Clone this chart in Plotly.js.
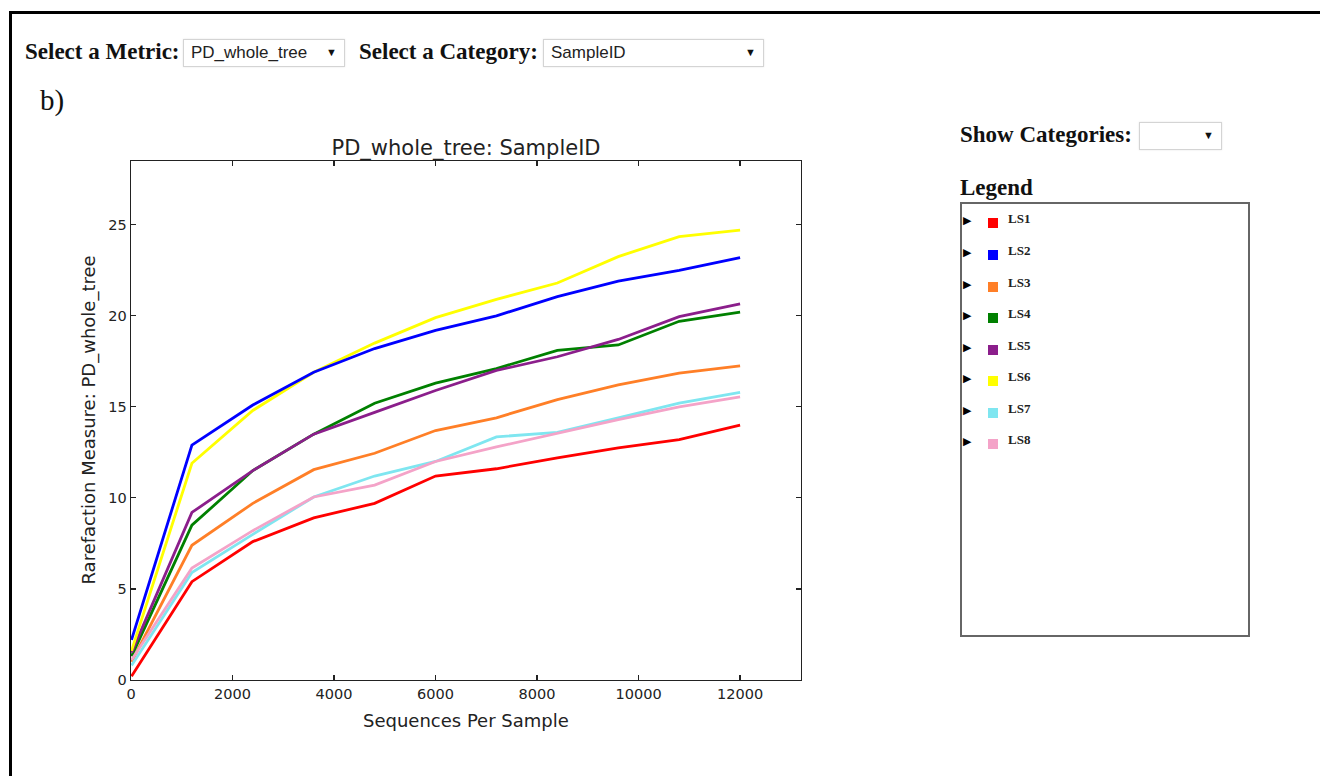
<!DOCTYPE html>
<html>
<head>
<meta charset="utf-8">
<script src="https://cdn.plot.ly/plotly-3.0.1.min.js"></script>
<style>
  html, body { margin:0; padding:0; width:1320px; height:776px; overflow:hidden; background:#fff; }
  #frame { position:absolute; left:9px; top:11px; width:1320px; height:800px; border-top:3px solid #000; border-left:3px solid #000; box-sizing:border-box; }
  #plot { position:absolute; left:0; top:0; width:1320px; height:776px; }
  .lbl { position:absolute; font-family:"Liberation Serif","Times New Roman",serif; font-weight:bold; font-size:23px; color:#111; white-space:nowrap; }
  .sel { position:absolute; border:1px solid #d4d4d4; box-shadow:0 0 2px #e6e6e6; background:#fff; box-sizing:border-box; font-family:"Liberation Sans",Arial,sans-serif; font-size:17px; color:#222; }
  .sel .txt { position:absolute; left:7px; top:3px; }
  .sel .arr { position:absolute; right:7px; top:6px; font-size:11px; color:#111; }
  #legbox { position:absolute; left:960px; top:202px; width:290px; height:435px; border:2px solid #666; box-sizing:border-box; }
  .row { position:absolute; left:0; height:16px; }
  .tri { position:absolute; left:1px; top:0; font-size:11px; color:#000; }
  .sq { position:absolute; left:26px; top:4px; width:10px; height:10px; }
  .nm { position:absolute; left:46px; top:-3px; font-family:"Liberation Serif","Times New Roman",serif; font-weight:bold; font-size:13px; color:#222; }
</style>
</head>
<body>
<div id="plot"></div>
<div id="frame"></div>
<div class="lbl" style="left:25px; top:39px;">Select a Metric:</div>
<div class="sel" style="left:183px; top:39px; width:162px; height:28px;"><span class="txt">PD_whole_tree</span><span class="arr">&#9660;</span></div>
<div class="lbl" style="left:359px; top:39px;">Select a Category:</div>
<div class="sel" style="left:543px; top:39px; width:221px; height:28px;"><span class="txt">SampleID</span><span class="arr">&#9660;</span></div>
<div style="position:absolute; left:40px; top:84px; font-family:'Liberation Serif','Times New Roman',serif; font-size:29px; color:#111;">b)</div>
<div class="lbl" style="left:960px; top:122px;">Show Categories:</div>
<div class="sel" style="left:1139px; top:122px; width:83px; height:28px;"><span class="arr">&#9660;</span></div>
<div class="lbl" style="left:960px; top:175px;">Legend</div>
<div id="legbox"></div>
<script>
const seqs = [10, 1200, 2400, 3600, 4800, 6000, 7200, 8400, 9600, 10800, 12000];
const seriesNames = ["LS1", "LS2", "LS3", "LS4", "LS5", "LS6", "LS7", "LS8"];
const seriesColors = ["#ff0000", "#0000ff", "#ff7f27", "#008000", "#8b1e8b", "#ffff00", "#7fe6f0", "#f4a3c8"];
const LS1 = [0.2, 5.4, 7.6, 8.9, 9.7, 11.2, 11.6, 12.2, 12.75, 13.2, 14.0];
const LS2 = [2.2, 12.9, 15.1, 16.9, 18.2, 19.2, 20.0, 21.05, 21.9, 22.5, 23.2];
const LS3 = [1.0, 7.4, 9.7, 11.55, 12.45, 13.7, 14.4, 15.4, 16.2, 16.85, 17.25];
const LS4 = [1.3, 8.5, 11.5, 13.5, 15.2, 16.3, 17.1, 18.1, 18.4, 19.7, 20.2];
const LS5 = [1.5, 9.2, 11.5, 13.5, 14.7, 15.9, 17.0, 17.75, 18.7, 19.95, 20.65];
const LS6 = [1.6, 11.9, 14.8, 16.9, 18.5, 19.9, 20.9, 21.8, 23.25, 24.35, 24.7];
const LS7 = [0.8, 5.9, 8.0, 10.05, 11.2, 12.0, 13.35, 13.6, 14.4, 15.2, 15.8];
const LS8 = [1.1, 6.15, 8.2, 10.05, 10.7, 12.0, 12.8, 13.55, 14.3, 15.0, 15.55];
const seriesValues = [LS1, LS2, LS3, LS4, LS5, LS6, LS7, LS8];
const xTicks = [0, 2000, 4000, 6000, 8000, 10000, 12000];
const yTicks = [0, 5, 10, 15, 20, 25];

const drawOrder = [0, 2, 3, 4, 5, 1, 6, 7];
const traces = drawOrder.map(i => ({
  x: seqs, y: seriesValues[i], type: 'scatter', mode: 'lines', name: seriesNames[i],
  line: {color: seriesColors[i], width: 2.8}
}));

const W = 1320, H = 776;
const L = 131, R = 801, T = 161, B = 680;
const axisCommon = {
  showgrid: false, zeroline: false, showline: true, linecolor: '#222', linewidth: 1.3,
  mirror: 'allticks', ticks: 'inside', ticklen: 5, tickwidth: 1.2, tickcolor: '#222',
  tickfont: {family: 'DejaVu Sans, sans-serif', size: 14.5, color: '#222'}
};
const layout = {
  width: W, height: H,
  margin: {l: L, r: W - R, t: T, b: H - B, pad: 0},
  paper_bgcolor: 'rgba(0,0,0,0)', plot_bgcolor: '#fff',
  showlegend: false,
  title: {text: 'PD_whole_tree: SampleID', x: 0.5, xref: 'paper', xanchor: 'center',
          y: 1 - 148 / H, yref: 'container', yanchor: 'middle',
          font: {family: 'DejaVu Sans, sans-serif', size: 21, color: '#222'}},
  xaxis: Object.assign({}, axisCommon, {range: [0, 13200], tickvals: xTicks, ticktext: xTicks.map(String)}),
  yaxis: Object.assign({}, axisCommon, {range: [0, 28.5], tickvals: yTicks, ticktext: yTicks.map(String)}),
  annotations: [
    {text: 'Sequences Per Sample', xref: 'paper', yref: 'paper', x: 0.5, y: -(720 - B) / (B - T),
     xanchor: 'center', yanchor: 'middle', showarrow: false,
     font: {family: 'DejaVu Sans, sans-serif', size: 18, color: '#222'}},
    {text: 'Rarefaction Measure: PD_whole_tree', xref: 'paper', yref: 'paper', x: -(L - 88) / (R - L), y: 0.5,
     xanchor: 'center', yanchor: 'middle', textangle: -90, showarrow: false,
     font: {family: 'DejaVu Sans, sans-serif', size: 18, color: '#222'}}
  ]
};
Plotly.newPlot('plot', traces, layout, {staticPlot: true, displayModeBar: false});

const box = document.getElementById('legbox');
const rowTops = [10, 42, 74, 105, 137, 168, 200, 231];
seriesNames.forEach((n, i) => {
  const r = document.createElement('div');
  r.className = 'row';
  r.style.top = rowTops[i] + 'px';
  r.innerHTML = '<span class="tri">&#9654;</span><span class="sq" style="background:' + seriesColors[i] + '"></span><span class="nm">' + n + '</span>';
  box.appendChild(r);
});
</script>
</body>
</html>
